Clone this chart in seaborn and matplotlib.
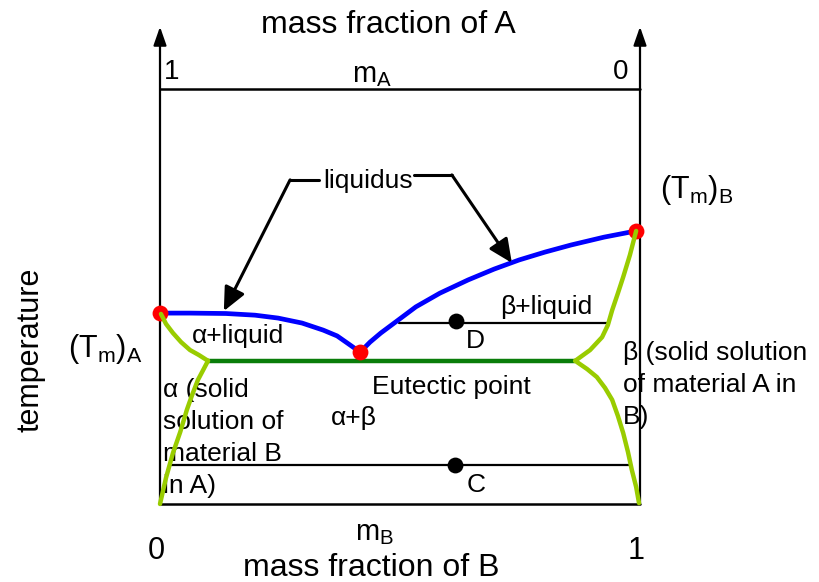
import matplotlib.pyplot as plt
import seaborn as sns

# x = mass fraction of B, y = temperature (normalised: 0 = bottom line, 1 = top line)
liq_left_x = [0.0, 0.0625, 0.1375, 0.198, 0.246, 0.296, 0.340, 0.369, 0.390, 0.417]
liq_left_y = [0.460, 0.460, 0.459, 0.455, 0.448, 0.436, 0.419, 0.405, 0.388, 0.366]
liq_right_x = [0.417, 0.4375, 0.460, 0.496, 0.533, 0.583, 0.642, 0.696, 0.748, 0.802, 0.856, 0.925, 0.992]
liq_right_y = [0.366, 0.390, 0.412, 0.443, 0.475, 0.508, 0.540, 0.566, 0.588, 0.607, 0.624, 0.643, 0.658]

sol_left_x = [0.002, 0.0125, 0.027, 0.044, 0.0625, 0.081, 0.100]
sol_left_y = [0.458, 0.434, 0.412, 0.390, 0.371, 0.359, 0.345]
solv_left_x = [0.100, 0.090, 0.079, 0.067, 0.056, 0.042, 0.027, 0.0125, 0.0]
solv_left_y = [0.345, 0.323, 0.299, 0.263, 0.227, 0.173, 0.123, 0.063, 0.0]

sol_right_x = [0.865, 0.896, 0.921, 0.933, 0.942, 0.954, 0.965, 0.979, 0.992]
sol_right_y = [0.345, 0.371, 0.402, 0.431, 0.467, 0.508, 0.547, 0.600, 0.658]
solv_right_x = [0.865, 0.890, 0.910, 0.927, 0.942, 0.954, 0.965, 0.975, 0.983, 0.992, 0.998]
solv_right_y = [0.345, 0.325, 0.306, 0.280, 0.251, 0.212, 0.171, 0.125, 0.082, 0.041, 0.002]

eutectic_x = [0.100, 0.865]
eutectic_temp = 0.345

# special points: melting points of A and B, eutectic point
melt_x = [0.0, 0.992, 0.417]
melt_y = [0.460, 0.658, 0.366]

# tie lines through states D and C
tie_names = ["D", "C"]
tie_temp = [0.435, 0.094]
tie_from = [0.498, 0.023]
tie_to = [0.935, 0.981]
state_x = [0.617, 0.615]
state_y = [0.441, 0.094]

sns.set_style("white")
plt.rcParams["font.family"] = ["Liberation Sans", "DejaVu Sans"]
plt.rcParams["text.color"] = "black"

fig = plt.figure(figsize=(8.19, 5.82), dpi=100)
ax = fig.add_axes([0, 0, 1, 1])
ax.set_xlim(-160 / 480, 659 / 480)
ax.set_ylim(-78 / 415, 504 / 415)
ax.axis("off")

# frame: bottom, top and two vertical axes with arrows
ax.plot([0, 1], [0, 0], color="black", lw=1.8)
ax.plot([0, 1], [1, 1], color="black", lw=1.8)
for xv in [0, 1]:
    ax.annotate("", xy=(xv, 1.15), xytext=(xv, 0),
                arrowprops=dict(arrowstyle="-|>,head_length=0.8,head_width=0.28",
                                color="black", lw=1.6, shrinkA=0, shrinkB=0,
                                mutation_scale=14))

# tie lines and state points
for i in range(len(tie_names)):
    ax.plot([tie_from[i], tie_to[i]], [tie_temp[i], tie_temp[i]], color="black", lw=1.6)
sns.scatterplot(x=state_x, y=state_y, color="black", s=130, ax=ax, zorder=5, linewidth=0)

# liquidus
sns.lineplot(x=liq_left_x, y=liq_left_y, sort=False, estimator=None, color="#0000ff", lw=3.4, ax=ax)
sns.lineplot(x=liq_right_x, y=liq_right_y, sort=False, estimator=None, color="#0000ff", lw=3.4, ax=ax)

# eutectic line
ax.plot(eutectic_x, [eutectic_temp, eutectic_temp], color="#0a7d0a", lw=3.2, solid_capstyle="butt")

# melting points and eutectic point
sns.scatterplot(x=melt_x, y=melt_y, color="#ff0000", s=130, ax=ax, zorder=6, linewidth=0)

# solidus and solvus
for xs, ys in [(sol_left_x, sol_left_y), (solv_left_x, solv_left_y),
               (sol_right_x, sol_right_y), (solv_right_x, solv_right_y)]:
    sns.lineplot(x=xs, y=ys, sort=False, estimator=None, color="#99cc00", lw=3.2, ax=ax, zorder=7)

# liquidus pointers
ax.plot([0.331, 0.271], [0.781, 0.781], color="black", lw=2.2)
ax.annotate("", xy=(0.133, 0.465), xytext=(0.271, 0.781),
            arrowprops=dict(arrowstyle="-|>,head_length=0.65,head_width=0.3", color="black",
                            lw=2.2, shrinkA=0, shrinkB=0, mutation_scale=22))
ax.plot([0.529, 0.608], [0.793, 0.793], color="black", lw=2.2)
ax.annotate("", xy=(0.733, 0.581), xytext=(0.608, 0.793),
            arrowprops=dict(arrowstyle="-|>,head_length=0.65,head_width=0.3", color="black",
                            lw=2.2, shrinkA=0, shrinkB=0, mutation_scale=22))

# labels
ax.text(0.475, 1.154, "mass fraction of A", ha="center", va="center", fontsize=23)
ax.text(0.44, -0.154, "mass fraction of B", ha="center", va="center", fontsize=23)
ax.text(0.025, 1.041, "1", ha="center", va="center", fontsize=20)
ax.text(0.960, 1.041, "0", ha="center", va="center", fontsize=20)
ax.text(-0.008, -0.113, "0", ha="center", va="center", fontsize=22)
ax.text(0.992, -0.113, "1", ha="center", va="center", fontsize=22)
ax.text(0.40, 1.017, r"$\mathregular{m_A}$", ha="left", va="baseline", fontsize=21)
ax.text(0.406, -0.087, r"$\mathregular{m_B}$", ha="left", va="baseline", fontsize=21)
ax.text(-0.269, 0.371, "temperature", rotation=90, ha="center", va="center", fontsize=22)
ax.text(-0.192, 0.354, r"$\mathregular{(T_m)_A}$", ha="left", va="baseline", fontsize=22)
ax.text(1.042, 0.737, r"$\mathregular{(T_m)_B}$", ha="left", va="baseline", fontsize=22)
ax.text(0.433, 0.778, "liquidus", ha="center", va="center", fontsize=19)

ax.text(0.067, 0.405, "α+liquid", ha="left", va="center", fontsize=19)
ax.text(0.708, 0.475, "β+liquid", ha="left", va="center", fontsize=19)
ax.text(0.658, 0.393, tie_names[0], ha="center", va="center", fontsize=19)
ax.text(0.658, 0.046, tie_names[1], ha="center", va="center", fontsize=19)
ax.text(0.606, 0.282, "Eutectic point", ha="center", va="center", fontsize=19)
ax.text(0.404, 0.207, "α+β", ha="center", va="center", fontsize=19)
ax.text(0.006, 0.303, "α (solid\nsolution of\nmaterial B\nin A)", ha="left", va="top",
        fontsize=19, linespacing=1.42)
ax.text(0.965, 0.392, "β (solid solution\nof material A in\nB)", ha="left", va="top",
        fontsize=19, linespacing=1.42)

fig.savefig("out.png", dpi=100)
